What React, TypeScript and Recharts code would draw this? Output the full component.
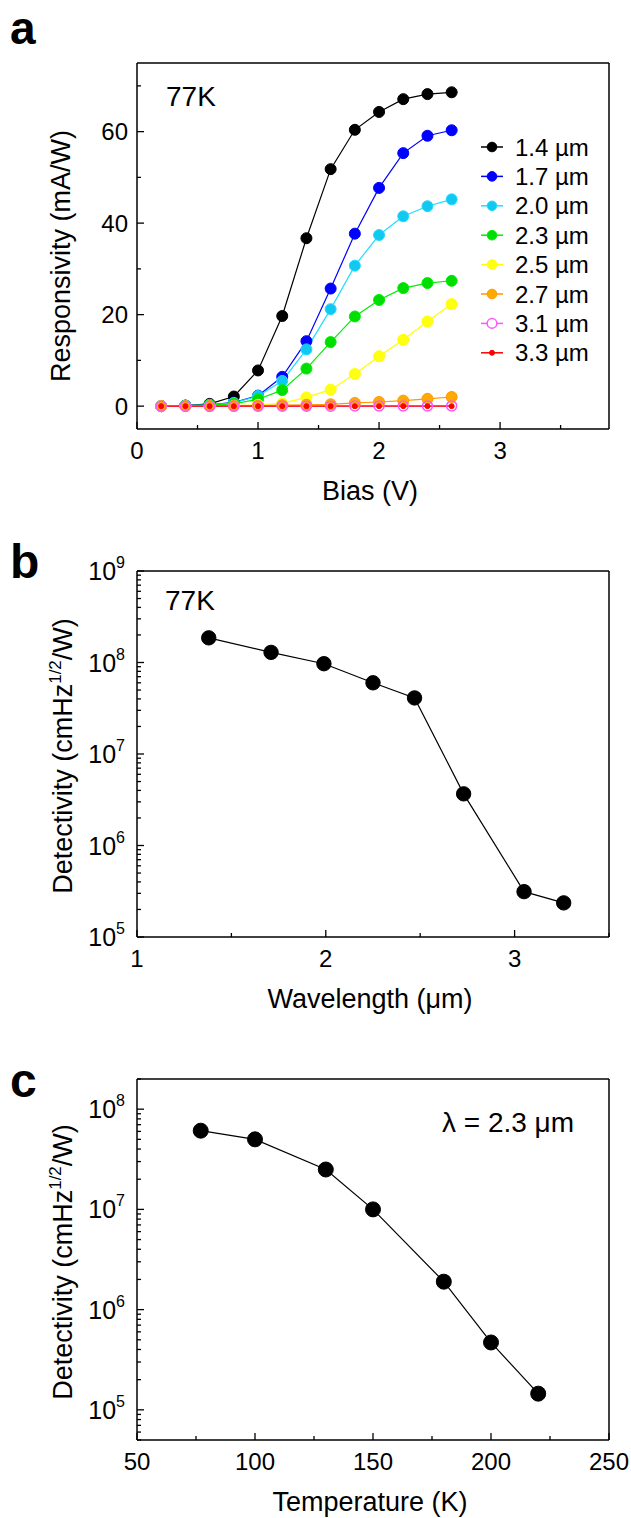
import { LineChart, Line, XAxis, YAxis } from "recharts";

const FONT = "'Liberation Sans', Arial, Helvetica, sans-serif";

// ---- panel a: responsivity vs bias at 77K ----
const biasV = [0.2, 0.4, 0.6, 0.8, 1.0, 1.2, 1.4, 1.6, 1.8, 2.0, 2.2, 2.4, 2.6];
const resp14 = [0, 0.1, 0.5, 2.1, 7.8, 19.7, 36.7, 51.8, 60.4, 64.3, 67.1, 68.2, 68.6];
const resp17 = [0, 0.1, 0.3, 0.8, 2.3, 6.4, 14.2, 25.7, 37.7, 47.7, 55.3, 59.1, 60.3];
const resp20 = [0, 0.1, 0.3, 0.7, 2.2, 5.5, 12.4, 21.2, 30.7, 37.4, 41.5, 43.7, 45.2];
const resp23 = [0, 0.1, 0.2, 0.5, 1.5, 3.5, 8.2, 14.0, 19.6, 23.2, 25.8, 26.9, 27.4];
const resp25 = [0, 0, 0, 0.1, 0.3, 0.6, 1.9, 3.6, 7.0, 10.9, 14.5, 18.5, 22.3];
const resp27 = [0, 0, 0, 0.05, 0.1, 0.2, 0.3, 0.4, 0.7, 0.9, 1.2, 1.6, 2.0];
const resp31 = [0, 0, 0, 0, 0, 0, 0, 0, 0.05, 0.05, 0.05, 0.05, 0.05];
const resp33 = [0, 0, 0, 0, 0, 0, 0, 0, 0, 0, 0, 0, 0];

const seriesNames = ["1.4 µm", "1.7 µm", "2.0 µm", "2.3 µm", "2.5 µm", "2.7 µm", "3.1 µm", "3.3 µm"];
const seriesValues = [resp14, resp17, resp20, resp23, resp25, resp27, resp31, resp33];

const biasTicks = [0, 0.5, 1, 1.5, 2, 2.5, 3, 3.5];
const biasLabels = [0, 1, 2, 3];
const respTicks = [0, 10, 20, 30, 40, 50, 60, 70];
const respLabels = [0, 20, 40, 60];

// ---- panel b: detectivity vs wavelength at 77K ----
const wavelength = [1.38, 1.71, 1.99, 2.25, 2.47, 2.73, 3.05, 3.26];
const detWl = [1.86e8, 1.29e8, 9.7e7, 6.0e7, 4.1e7, 3.67e6, 3.13e5, 2.36e5];
const wlTicks = [1, 1.5, 2, 2.5, 3, 3.5];
const wlLabels = [1, 2, 3];

// ---- panel c: detectivity vs temperature at 2.3 um ----
const temperature = [77, 100, 130, 150, 180, 200, 220];
const detT = [6.1e7, 5.0e7, 2.5e7, 1.0e7, 1.9e6, 4.7e5, 1.45e5];
const tTicks = [50, 75, 100, 125, 150, 175, 200, 225, 250];
const tLabels = [50, 100, 150, 200, 250];

// styles (kept apart from the values)
const seriesStyle = [
  { stroke: "#000000", fill: "#000000", r: 5.5 },
  { stroke: "#0000ff", fill: "#0000ff", r: 5.5 },
  { stroke: "#22ddff", fill: "#11c8f0", r: 5.5 },
  { stroke: "#00ee00", fill: "#00dd00", r: 5.5 },
  { stroke: "#ffff00", fill: "#ffff11", r: 5.5 },
  { stroke: "#ff9900", fill: "#ffaa00", r: 5.5 },
  { stroke: "#ff55ff", fill: "none", r: 5 },
  { stroke: "#ff0000", fill: "#ff0000", r: 2.5 },
];

const dataA = biasV.map((b, i) => {
  const row: Record<string, number> = { bias: b };
  seriesValues.forEach((vals, k) => {
    row["s" + k] = vals[i];
  });
  return row;
});
const dataB = wavelength.map((w, i) => ({ wl: w, d: detWl[i] }));
const dataC = temperature.map((t, i) => ({ t, d: detT[i] }));

function logTicks(lo: number, hi: number) {
  const out: number[] = [];
  for (let e = Math.floor(Math.log10(lo)); e <= Math.ceil(Math.log10(hi)); e++) {
    for (let m = 1; m < 10; m++) {
      const v = m * Math.pow(10, e);
      if (v >= lo * 0.999 && v <= hi * 1.001) out.push(v);
    }
  }
  return out;
}

const near = (a: number, list: number[]) => list.some((m) => Math.abs(m - a) < 1e-9);

const xTick = (majors: number[]) => (p: any) => {
  const { x, y, payload } = p;
  const v = payload.value;
  const major = near(v, majors);
  return (
    <g>
      <line x1={x} x2={x} y1={y} y2={y - (major ? 7 : 4)} stroke="#000" strokeWidth={1.3} />
      {major && (
        <text x={x} y={y + 30} textAnchor="middle" fontSize={24} fontFamily={FONT} fill="#000">
          {v}
        </text>
      )}
    </g>
  );
};

const yTick = (majors: number[]) => (p: any) => {
  const { x, y, payload } = p;
  const v = payload.value;
  const major = near(v, majors);
  return (
    <g>
      <line x1={x} x2={x + (major ? 7 : 4)} y1={y} y2={y} stroke="#000" strokeWidth={1.3} />
      {major && (
        <text x={x - 9} y={y + 8.5} textAnchor="end" fontSize={24} fontFamily={FONT} fill="#000">
          {v}
        </text>
      )}
    </g>
  );
};

const logYTick = (p: any) => {
  const { x, y, payload } = p;
  const e = Math.log10(payload.value);
  const major = Math.abs(e - Math.round(e)) < 1e-6;
  return (
    <g>
      <line x1={x} x2={x + (major ? 7 : 4)} y1={y} y2={y} stroke="#000" strokeWidth={1.3} />
      {major && (
        <text x={x - 12} y={y + 9} textAnchor="end" fontSize={25} fontFamily={FONT} fill="#000">
          10
          <tspan fontSize={16} dy={-12}>
            {Math.round(e)}
          </tspan>
        </text>
      )}
    </g>
  );
};

const AX = { stroke: "#000", strokeWidth: 1.5 };
const W = 631;
const PLOT_L = 137;
const PLOT_R = 609;

function Legend() {
  return (
    <svg width={150} height={250} style={{ position: "absolute", left: 478, top: 130 }}>
      {seriesNames.map((name, i) => {
        const st = seriesStyle[i];
        const cy = 17 + 29.4 * i;
        return (
          <g key={name}>
            <line x1={3} x2={25} y1={cy} y2={cy} stroke={st.stroke} strokeWidth={1.5} />
            <circle
              cx={14}
              cy={cy}
              r={i === 7 ? 2.5 : 4.8}
              fill={st.fill === "none" ? "#fff" : st.fill}
              stroke={st.stroke}
              strokeWidth={i === 6 ? 1.5 : 1}
            />
            <text x={37} y={cy + 8.5} fontSize={24} fontFamily={FONT} fill="#000">
              {name}
            </text>
          </g>
        );
      })}
    </svg>
  );
}

// box frame: extra top / right axes without ticks (need 1px so recharts draws them)
function frameAxes(xDomain: number[], yDomain: number[], log?: boolean) {
  return [
    <XAxis key="top" xAxisId="top" orientation="top" type="number" domain={xDomain} height={1} tick={false} tickLine={false} axisLine={AX} />,
    <YAxis
      key="right"
      yAxisId="right"
      orientation="right"
      type="number"
      scale={log ? "log" : "auto"}
      domain={yDomain}
      width={1}
      tick={false}
      tickLine={false}
      axisLine={AX}
    />,
  ];
}

function PanelA() {
  const H = 530;
  return (
    <div style={{ position: "absolute", left: 0, top: 0 }}>
      <LineChart
        width={W}
        height={H}
        data={dataA}
        margin={{ top: 63 - 1, right: W - PLOT_R - 1, bottom: H - 429 - 40, left: 0 }}
      >
        <XAxis
          dataKey="bias"
          type="number"
          domain={[0, 3.9]}
          allowDataOverflow
          ticks={biasTicks}
          interval={0}
          height={40}
          tickSize={0}
          tickMargin={0}
          tickLine={false}
          axisLine={AX}
          tick={xTick(biasLabels)}
        />
        <YAxis
          type="number"
          domain={[-5, 75]}
          allowDataOverflow
          ticks={respTicks}
          interval={0}
          width={PLOT_L}
          tickSize={0}
          tickMargin={0}
          tickLine={false}
          axisLine={AX}
          tick={yTick(respLabels)}
        />
        {frameAxes([0, 3.9], [-5, 75])}
        {seriesNames.map((name, k) => {
          const st = seriesStyle[k];
          return (
            <Line
              key={name}
              name={name}
              dataKey={"s" + k}
              type="linear"
              stroke={st.stroke}
              strokeWidth={1.2}
              dot={{ r: st.r, fill: st.fill, stroke: st.stroke, strokeWidth: k === 6 ? 1.5 : 1 }}
              activeDot={false}
              isAnimationActive={false}
            />
          );
        })}
      </LineChart>
      <Legend />
    </div>
  );
}

function LogPanel({
  top,
  H,
  plotTop,
  plotBottom,
  data,
  xKey,
  xDomain,
  xTicks,
  xLabels,
  yDomain,
  r,
}: {
  top: number;
  H: number;
  plotTop: number;
  plotBottom: number;
  data: any[];
  xKey: string;
  xDomain: number[];
  xTicks: number[];
  xLabels: number[];
  yDomain: number[];
  r: number;
}) {
  return (
    <div style={{ position: "absolute", left: 0, top }}>
      <LineChart
        width={W}
        height={H}
        data={data}
        margin={{ top: plotTop - top - 1, right: W - PLOT_R - 1, bottom: H - (plotBottom - top) - 40, left: 0 }}
      >
        <XAxis
          dataKey={xKey}
          type="number"
          domain={xDomain}
          allowDataOverflow
          ticks={xTicks}
          interval={0}
          height={40}
          tickSize={0}
          tickMargin={0}
          tickLine={false}
          axisLine={AX}
          tick={xTick(xLabels)}
        />
        <YAxis
          type="number"
          scale="log"
          domain={yDomain}
          allowDataOverflow
          ticks={logTicks(yDomain[0], yDomain[1])}
          interval={0}
          width={PLOT_L}
          tickSize={0}
          tickMargin={0}
          tickLine={false}
          axisLine={AX}
          tick={logYTick}
        />
        {frameAxes(xDomain, yDomain, true)}
        <Line
          dataKey="d"
          type="linear"
          stroke="#000"
          strokeWidth={1.2}
          dot={{ r, fill: "#000", stroke: "#000", strokeWidth: 1 }}
          activeDot={false}
          isAnimationActive={false}
        />
      </LineChart>
    </div>
  );
}

function Texts() {
  const t = { fontFamily: FONT, fill: "#000" };
  return (
    <svg width={W} height={1518} style={{ position: "absolute", left: 0, top: 0, pointerEvents: "none" }}>
      <text x={10} y={44} fontSize={46} fontWeight="bold" {...t}>a</text>
      <text x={10} y={578} fontSize={48} fontWeight="bold" {...t}>b</text>
      <text x={10} y={1097} fontSize={48} fontWeight="bold" {...t}>c</text>

      <text x={166} y={106} fontSize={28} {...t}>77K</text>
      <text x={165} y={610} fontSize={28} {...t}>77K</text>
      <text x={442} y={1132} fontSize={28} {...t}>λ = 2.3 μm</text>

      <text x={370} y={500} fontSize={27} textAnchor="middle" {...t}>Bias (V)</text>
      <text x={370} y={1008} fontSize={27} textAnchor="middle" {...t}>Wavelength (μm)</text>
      <text x={370} y={1511} fontSize={27} textAnchor="middle" {...t}>Temperature (K)</text>

      <text transform="translate(70,256) rotate(-90)" fontSize={27} textAnchor="middle" {...t}>
        Responsivity (mA/W)
      </text>
      <text transform="translate(72,756) rotate(-90)" fontSize={27} textAnchor="middle" {...t}>
        Detectivity (cmHz<tspan fontSize={17} dy={-11}>1/2</tspan>
        <tspan dy={11}>/W)</tspan>
      </text>
      <text transform="translate(72,1262) rotate(-90)" fontSize={27} textAnchor="middle" {...t}>
        Detectivity (cmHz<tspan fontSize={17} dy={-11}>1/2</tspan>
        <tspan dy={11}>/W)</tspan>
      </text>
    </svg>
  );
}

export default function App() {
  return (
    <div style={{ position: "absolute", left: 0, top: 0, width: W, height: 1518, background: "#fff", overflow: "hidden" }}>
      <PanelA />
      <LogPanel
        top={510}
        H={520}
        plotTop={571}
        plotBottom={937}
        data={dataB}
        xKey="wl"
        xDomain={[1, 3.5]}
        xTicks={wlTicks}
        xLabels={wlLabels}
        yDomain={[1e5, 1e9]}
        r={7.2}
      />
      <LogPanel
        top={1030}
        H={488}
        plotTop={1079}
        plotBottom={1440}
        data={dataC}
        xKey="t"
        xDomain={[50, 250]}
        xTicks={tTicks}
        xLabels={tLabels}
        yDomain={[5e4, 2e8]}
        r={7.5}
      />
      <Texts />
    </div>
  );
}
